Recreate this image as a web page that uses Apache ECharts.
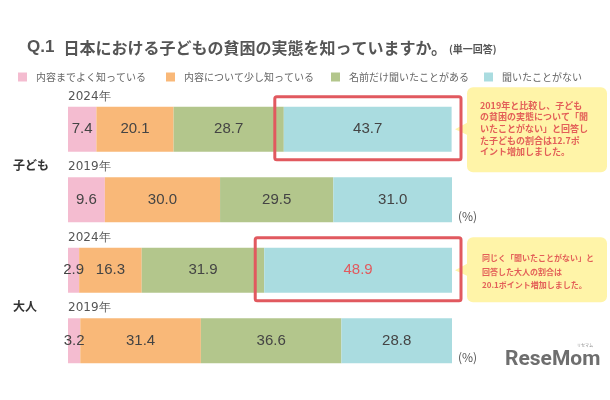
<!DOCTYPE html>
<html>
<head>
<meta charset="utf-8">
<script src="https://cdn.jsdelivr.net/npm/echarts@6/dist/echarts.min.js"></script>
<style>
  html, body { margin: 0; padding: 0; background: #fff; }
  #chart { width: 610px; height: 400px; }
</style>
</head>
<body>
<div id="chart"></div>
<script>
// data
var groups = ['子ども', '大人'];
var years = ['2024年', '2019年', '2024年', '2019年'];
var rows = ['子ども2024', '子ども2019', '大人2024', '大人2019'];
var answerNames = ['内容までよく知っている', '内容について少し知っている', '名前だけ聞いたことがある', '聞いたことがない'];
var knowWell = [7.4, 9.6, 2.9, 3.2];
var knowLittle = [20.1, 30.0, 16.3, 31.4];
var heardName = [28.7, 29.5, 31.9, 36.6];
var neverHeard = [43.7, 31.0, 48.9, 28.8];
var boxedRows = [0, 2];
var redLabelRow = 2;
var notes = [
  '2019年と比較し、子ども\nの貧困の実態について「聞\nいたことがない」と回答し\nた子どもの割合は12.7ポ\nイント増加しました。',
  '同じく「聞いたことがない」と\n回答した大人の割合は\n20.1ポイント増加しました。'
];

var colors = ['#F4BCD0', '#F9B878', '#B3C68C', '#AADCE0'];
var FONT = '"Noto Sans CJK JP", sans-serif';
var BAR_H = 45;

var chart = echarts.init(document.getElementById('chart'));

function makeSeries(name, values, idx) {
  return {
    name: name,
    type: 'bar',
    stack: 'total',
    barWidth: BAR_H,
    itemStyle: { color: colors[idx] },
    label: {
      show: true,
      position: 'inside',
      fontSize: 15,
      color: '#444',
      fontFamily: '"Liberation Sans", Arial, sans-serif',
      formatter: function (p) { return p.value.toFixed(1); }
    },
    data: values.map(function (v, i) {
      var d = { value: v };
      if (idx === 3 && i === redLabelRow) {
        d.label = { color: '#E25A5E' };
      }
      return d;
    })
  };
}

var legendLeft = [13, 161, 326, 479];

var option = {
  animation: false,
  textStyle: { fontFamily: FONT },
  title: {
    left: 22,
    top: 34,
    text: '{q|Q.1}{t|日本における子どもの貧困の実態を知っていますか。}{s|(単一回答)}',
    textStyle: {
      rich: {
        q: { fontSize: 17, fontWeight: 'bold', color: '#555', fontFamily: '"Liberation Sans", Arial, sans-serif', padding: [0, 9, 0, 0] },
        t: { fontSize: 16, fontWeight: 'bold', color: '#555', fontFamily: FONT },
        s: { fontSize: 10, fontWeight: 'bold', color: '#555', fontFamily: FONT, padding: [3, 0, 0, 2] }
      }
    }
  },
  legend: answerNames.map(function (n, i) {
    return {
      data: [n],
      left: legendLeft[i],
      top: 67,
      itemWidth: 9,
      itemHeight: 9,
      icon: 'rect',
      selectedMode: false,
      textStyle: { fontSize: 10, color: '#666', fontFamily: FONT, padding: [0, 0, 0, 4] }
    };
  }),
  grid: { left: 68, right: 158, top: 94, bottom: 24 },
  xAxis: { type: 'value', min: 0, max: 100, show: false },
  yAxis: { type: 'category', data: rows, inverse: true, show: false },
  series: [
    makeSeries(answerNames[0], knowWell, 0),
    makeSeries(answerNames[1], knowLittle, 1),
    makeSeries(answerNames[2], heardName, 2),
    makeSeries(answerNames[3], neverHeard, 3)
  ]
};

chart.setOption(option);

// annotations placed from the axes
var g = [];
rows.forEach(function (r, i) {
  var p = chart.convertToPixel({ gridIndex: 0 }, [0, i]);
  g.push({
    type: 'text', left: p[0], top: p[1] - BAR_H / 2 - 16,
    style: { text: years[i], fontSize: 12, fill: '#555', fontFamily: '"DejaVu Sans", sans-serif' }
  });
});
groups.forEach(function (name, k) {
  var a = chart.convertToPixel({ gridIndex: 0 }, [0, k * 2]);
  var b = chart.convertToPixel({ gridIndex: 0 }, [0, k * 2 + 1]);
  g.push({
    type: 'text', left: 13, top: (a[1] + b[1]) / 2 - 5,
    style: { text: name, fontSize: 12, fontWeight: 'bold', fill: '#333', fontFamily: FONT }
  });
  var end = chart.convertToPixel({ gridIndex: 0 }, [100, k * 2 + 1]);
  g.push({
    type: 'text', left: end[0] + 6, top: end[1] + BAR_H / 2 - 12,
    style: { text: '(%)', fontSize: 12, fill: '#555', fontFamily: FONT }
  });
});
boxedRows.forEach(function (i, k) {
  var start = knowWell[i] + knowLittle[i] + heardName[i];
  var s = chart.convertToPixel({ gridIndex: 0 }, [start, i]);
  var e = chart.convertToPixel({ gridIndex: 0 }, [100, i]);
  g.push({
    type: 'rect', z: 10,
    shape: { x: s[0] - 9, y: s[1] - BAR_H / 2 - 10, width: e[0] - s[0] + 18, height: BAR_H + 18, r: 2 },
    style: { fill: 'none', stroke: '#E1595F', lineWidth: 3 }
  });
  // callout
  var top = k === 0 ? s[1] - 42 : s[1] - 33;
  var h = k === 0 ? 85 : 65;
  g.push({
    type: 'rect', z: 5,
    shape: { x: 467, y: top, width: 140, height: h, r: 6 },
    style: { fill: '#FFF4A8' }
  });
  g.push({
    type: 'polygon', z: 5,
    shape: { points: [[468, s[1] - 7], [455, s[1]], [468, s[1] + 6]] },
    style: { fill: '#FFF4A8' }
  });
  g.push({
    type: 'text', z: 6,
    left: k === 0 ? 480 : 482,
    top: k === 0 ? top + 12 : top + 14,
    style: {
      text: notes[k], fontSize: k === 0 ? 9 : 8, fontWeight: 'bold',
      lineHeight: k === 0 ? 11.7 : 13.5, fill: '#E35F58', fontFamily: FONT
    }
  });
});
g.push({
  type: 'text', left: 505, top: 349,
  style: { text: 'ReseMom', fontSize: 21, fontWeight: 'bold', fill: '#6E6E6E', fontFamily: 'Roboto, sans-serif' }
});
g.push({
  type: 'text', left: 577, top: 343,
  style: { text: 'リセマム', fontSize: 4, fill: '#888', fontFamily: FONT }
});

chart.setOption({ graphic: g });
</script>
</body>
</html>
